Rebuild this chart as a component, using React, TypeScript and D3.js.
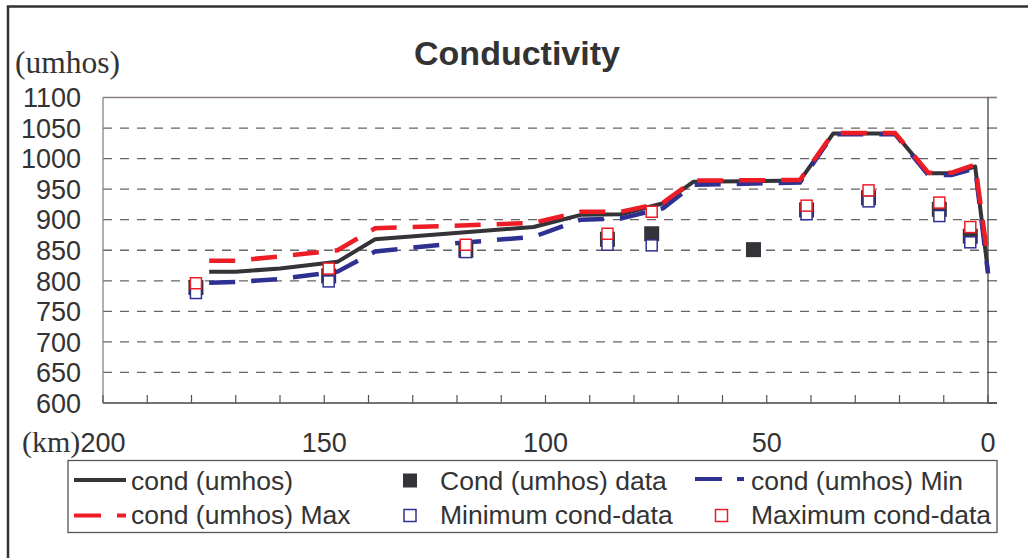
import React from "react";
import * as d3 from "d3";

// ---- data ----
const lineKm = [176, 170, 160, 147, 138.5, 121, 102.7, 92, 83, 73.4, 66.6, 42.5, 35, 21, 13.5, 8.2, 2.9, 0];
const condLine = [815, 815, 820, 831, 868, 878, 888, 908, 909, 927, 962, 964, 1041, 1041, 976, 976, 987, 815];
const condMax = [833, 833, 840, 850, 886, 890, 895, 913, 913, 928, 964, 965, 1042, 1042, 977, 977, 990, 835];
const condMin = [797, 798, 803, 815, 848, 861, 872, 900, 902, 919, 957, 961, 1040, 1040, 973, 973, 984, 812];

const dataKm = [179, 149, 118, 86, 76, 53, 41, 27, 11, 4];
const condData = [789, 808, 850, 868, 877, 851, 916, 936, 917, 873];
const minData: (number | null)[] = [780, 799, 847, 859, 858, null, 909, 930, 906, 863];
const maxData: (number | null)[] = [796, 820, 859, 877, 913, null, 923, 948, 928, 888];

const yTicks = [600, 650, 700, 750, 800, 850, 900, 950, 1000, 1050, 1100];
const xTickLabels = [200, 150, 100, 50, 0];
const xMinorTicks = d3.range(0, 201, 10);

const legendRow1 = ["cond (umhos)", "Cond (umhos) data", "cond (umhos) Min"];
const legendRow2 = ["cond (umhos) Max", "Minimum cond-data", "Maximum cond-data"];

// ---- style ----
const BLACK = "#333338";
const RED = "#ee1c25";
const BLUE = "#2e3192";
const SANS = "'Liberation Sans', Arial, sans-serif";
const SERIF = "'Liberation Serif', 'Times New Roman', serif";

export default function App() {
  const W = 1028, H = 558;
  const x = d3.scaleLinear().domain([200, 0]).range([103, 988]);
  const y = d3.scaleLinear().domain([600, 1100]).range([403, 97.5]);

  const mk = (vals: number[]) =>
    d3.line<number>().x((_, i) => x(lineKm[i])).y((v) => y(v))(vals) as string;

  const sq = 12.5;
  const bsq = 15;
  const LF = 26.5;

  return (
    <svg width={W} height={H} style={{ position: "absolute", left: 0, top: 0, background: "#fff" }}>
      {/* outer frame */}
      <path d={`M8,${H} V6.5 H${W}`} fill="none" stroke="#333" strokeWidth={2.5} />

      {/* title */}
      <text x={517} y={65} textAnchor="middle" fontFamily={SANS} fontWeight="bold" fontSize={34} fill="#333">
        Conductivity
      </text>
      <text x={15} y={73} fontFamily={SERIF} fontSize={31.5} fill="#333">(umhos)</text>

      {/* gridlines */}
      {yTicks.slice(1, -1).map((t) => (
        <line key={"g" + t} x1={103} x2={988} y1={y(t)} y2={y(t)} stroke="#666" strokeWidth={1.3} strokeDasharray="9,8" />
      ))}
      {/* right-side ticks */}
      {yTicks.map((t) => (
        <line key={"r" + t} x1={988} x2={997} y1={y(t)} y2={y(t)} stroke="#555" strokeWidth={1.2} />
      ))}
      {/* frame */}
      <line x1={103} x2={997} y1={y(1100)} y2={y(1100)} stroke="#8a8080" strokeWidth={1.3} />
      <line x1={103} x2={103} y1={y(1100)} y2={y(600)} stroke="#8a8080" strokeWidth={1.3} />
      <line x1={988} x2={988} y1={y(1100)} y2={y(600)} stroke="#444" strokeWidth={1.3} />
      <line x1={103} x2={997} y1={y(600)} y2={y(600)} stroke="#444" strokeWidth={1.5} />
      {xMinorTicks.map((t) => (
        <line key={"xt" + t} x1={x(t)} x2={x(t)} y1={y(600)} y2={y(600) - 8} stroke="#555" strokeWidth={1.2} />
      ))}

      {/* y tick labels */}
      {yTicks.map((t) => (
        <text key={"yl" + t} x={81} y={y(t) + 9.7} textAnchor="end" fontFamily={SANS} fontSize={27} fill="#333">
          {t}
        </text>
      ))}
      {/* x tick labels */}
      {xTickLabels.map((t) => (
        <text key={"xl" + t} x={x(t)} y={452} textAnchor="middle" fontFamily={SANS} fontSize={27} fill="#333">
          {t}
        </text>
      ))}
      <text x={22} y={452} fontFamily={SERIF} fontSize={30} fill="#333">(km)</text>

      {/* lines */}
      <path d={mk(condLine)} fill="none" stroke={BLACK} strokeWidth={4} strokeLinejoin="round" />
      <path d={mk(condMin)} fill="none" stroke={BLUE} strokeWidth={4.5} strokeDasharray="26,16" />
      <path d={mk(condMax)} fill="none" stroke={RED} strokeWidth={4.5} strokeDasharray="26,16" />

      {/* markers */}
      {dataKm.map((k, i) => (
        <rect key={"b" + i} x={x(k) - bsq / 2} y={y(condData[i]) - bsq / 2} width={bsq} height={bsq} fill={BLACK} />
      ))}
      {dataKm.map((k, i) =>
        minData[i] == null ? null : (
          <rect key={"mn" + i} x={x(k) - sq / 2 + 0.75} y={y(minData[i] as number) - sq / 2 + 0.75} width={sq - 1.5} height={sq - 1.5}
            fill="#fff" stroke={BLUE} strokeWidth={1.5} />
        )
      )}
      {dataKm.map((k, i) =>
        maxData[i] == null ? null : (
          <rect key={"mx" + i} x={x(k) - sq / 2 + 0.75} y={y(maxData[i] as number) - sq / 2 + 0.75} width={sq - 1.5} height={sq - 1.5}
            fill="#fff" stroke={RED} strokeWidth={1.5} />
        )
      )}

      {/* legend */}
      <rect x={68} y={460.5} width={929} height={72} fill="#fff" stroke="#555" strokeWidth={1.3} />
      {/* row 1 */}
      <line x1={74} x2={126} y1={480} y2={480} stroke={BLACK} strokeWidth={4} />
      <text x={131} y={490} fontFamily={SANS} fontSize={LF} fill="#333">{legendRow1[0]}</text>
      <rect x={403} y={473.5} width={14} height={14} fill={BLACK} />
      <text x={440} y={490} fontFamily={SANS} fontSize={LF} fill="#333">{legendRow1[1]}</text>
      <line x1={695} x2={744} y1={479} y2={479} stroke={BLUE} strokeWidth={4} strokeDasharray="27,15" />
      <text x={751} y={490} fontFamily={SANS} fontSize={LF} fill="#333">{legendRow1[2]}</text>
      {/* row 2 */}
      <line x1={74} x2={126} y1={515.5} y2={515.5} stroke={RED} strokeWidth={4} strokeDasharray="27,16" />
      <text x={131} y={524} fontFamily={SANS} fontSize={LF} fill="#333">{legendRow2[0]}</text>
      <rect x={404} y={509.5} width={12} height={12} fill="#fff" stroke={BLUE} strokeWidth={1.5} />
      <text x={440} y={524} fontFamily={SANS} fontSize={LF} fill="#333">{legendRow2[1]}</text>
      <rect x={715.5} y={509.5} width={12} height={12} fill="#fff" stroke={RED} strokeWidth={1.5} />
      <text x={751} y={524} fontFamily={SANS} fontSize={LF} fill="#333">{legendRow2[2]}</text>
    </svg>
  );
}
